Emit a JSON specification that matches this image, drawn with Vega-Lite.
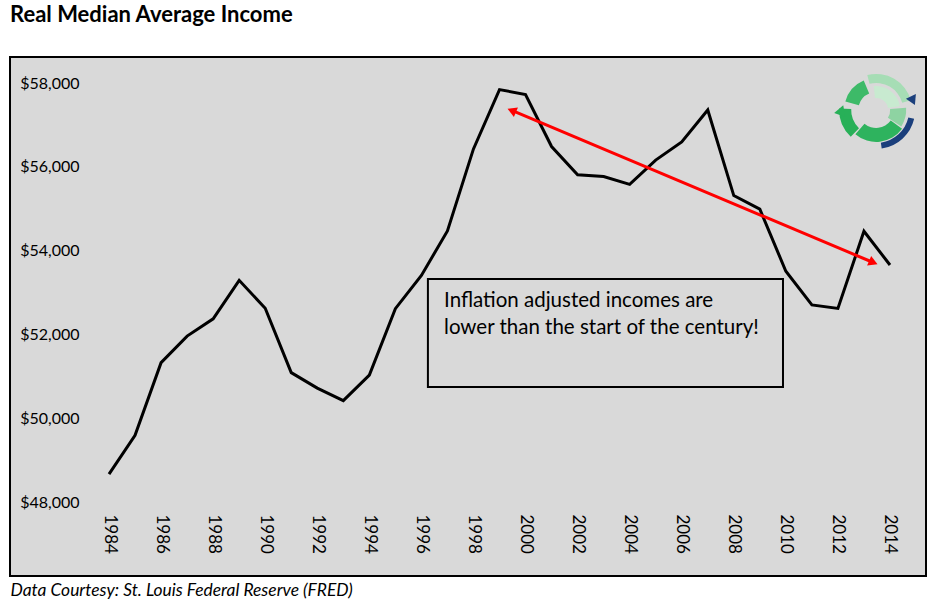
{
  "$schema": "https://vega.github.io/schema/vega-lite/v6.json",
  "width": 916,
  "height": 519,
  "autosize": "none",
  "padding": {"left": 10, "top": 57, "right": 7, "bottom": 36},
  "background": "white",
  "config": {
    "view": {"fill": "#D9D9D9", "stroke": "black", "strokeWidth": 2},
    "font": "Lato"
  },
  "title": {
    "text": "Real Median Average Income",
    "anchor": "start",
    "frame": "group",
    "font": "Lato",
    "fontSize": 22,
    "fontWeight": "bold",
    "color": "black",
    "baseline": "alphabetic",
    "offset": 13
  },
  "datasets": {
    "income": [
      {"year": 1984, "value": 48664},
      {"year": 1985, "value": 49594},
      {"year": 1986, "value": 51325},
      {"year": 1987, "value": 51960},
      {"year": 1988, "value": 52372},
      {"year": 1989, "value": 53290},
      {"year": 1990, "value": 52623},
      {"year": 1991, "value": 51087},
      {"year": 1992, "value": 50717},
      {"year": 1993, "value": 50418},
      {"year": 1994, "value": 51027},
      {"year": 1995, "value": 52614},
      {"year": 1996, "value": 53407},
      {"year": 1997, "value": 54469},
      {"year": 1998, "value": 56427},
      {"year": 1999, "value": 57843},
      {"year": 2000, "value": 57724},
      {"year": 2001, "value": 56484},
      {"year": 2002, "value": 55812},
      {"year": 2003, "value": 55767},
      {"year": 2004, "value": 55580},
      {"year": 2005, "value": 56159},
      {"year": 2006, "value": 56594},
      {"year": 2007, "value": 57357},
      {"year": 2008, "value": 55313},
      {"year": 2009, "value": 54988},
      {"year": 2010, "value": 53507},
      {"year": 2011, "value": 52704},
      {"year": 2012, "value": 52620},
      {"year": 2013, "value": 54462},
      {"year": 2014, "value": 53657}
    ],
    "grid": [
      {"value": 50000}, {"value": 52000}, {"value": 54000}, {"value": 56000}, {"value": 58000}
    ],
    "arrowline": [
      {"year": 1999.45, "value": 57350, "year2": 2013.38, "value2": 53710}
    ],
    "headstart": [{"year": 1999.47, "value": 57344}],
    "headend": [{"year": 2013.36, "value": 53716}],
    "box": [{"year": 1996.25, "year2": 2009.89, "value": 53322, "value2": 50745}],
    "note": [
      {"year": 1996.87, "value": 52654, "text": "Inflation adjusted incomes are"},
      {"year": 1996.87, "value": 52010, "text": "lower than the start of the century!"}
    ],
    "logo": [{"year": 2013.47, "value": 57356}],
    "logoBlueHead": [{"year": 2014.89, "value": 57642}],
    "logoGreenHead": [{"year": 2012.05, "value": 57308}]
  },
  "encoding": {
    "x": {
      "field": "year",
      "type": "quantitative",
      "scale": {"domain": [1983.5, 2014.5], "range": [86, 893], "nice": false, "zero": false},
      "axis": {
        "values": [1984, 1986, 1988, 1990, 1992, 1994, 1996, 1998, 2000, 2002, 2004, 2006, 2008, 2010, 2012, 2014],
        "format": "d",
        "labelAngle": 90,
        "labelAlign": "left",
        "labelBaseline": "middle",
        "grid": false,
        "domain": false,
        "ticks": false,
        "labelPadding": 12,
        "offset": -74,
        "labelFlush": false,
        "labelOverlap": false,
        "labelBound": false,
        "labelFont": "Lato",
        "labelFontSize": 17,
        "labelColor": "black",
        "title": "Data Courtesy: St. Louis Federal Reserve (FRED)",
        "titleX": 0,
        "titleY": 93,
        "titleAlign": "left",
        "titleAnchor": "start",
        "titleBaseline": "alphabetic",
        "titleFont": "Lato",
        "titleFontStyle": "italic",
        "titleFontWeight": "normal",
        "titleFontSize": 17.4,
        "titleColor": "black"
      }
    },
    "y": {
      "field": "value",
      "type": "quantitative",
      "scale": {"domain": [48000, 58000], "range": [445, 26], "nice": false, "zero": false},
      "axis": {
        "values": [48000, 50000, 52000, 54000, 56000, 58000],
        "format": "$,.0f",
        "grid": false,
        "domain": false,
        "ticks": false,
        "labelPadding": 17,
        "offset": -86,
        "labelFont": "Lato",
        "labelFontSize": 16,
        "labelColor": "black",
        "title": null
      }
    }
  },
  "layer": [
    {
      "data": {"name": "grid"},
      "mark": {"type": "rule", "color": "white", "strokeWidth": 1},
      "encoding": {
        "x": {"datum": 1983.5},
        "x2": {"datum": 2014.5}
      }
    },
    {
      "data": {"name": "income"},
      "mark": {"type": "line", "color": "black", "strokeWidth": 3}
    },
    {
      "data": {"name": "box"},
      "mark": {"type": "rect", "fill": null, "fillOpacity": 0, "stroke": "black", "strokeWidth": 2},
      "encoding": {
        "x2": {"field": "year2"},
        "y2": {"field": "value2"}
      }
    },
    {
      "data": {"name": "note"},
      "mark": {"type": "text", "align": "left", "baseline": "alphabetic", "font": "Lato", "fontSize": 20.5, "color": "black"},
      "encoding": {"text": {"field": "text"}}
    },
    {
      "data": {"name": "arrowline"},
      "mark": {"type": "rule", "color": "#FF0000", "strokeWidth": 3},
      "encoding": {
        "x2": {"field": "year2"},
        "y2": {"field": "value2"}
      }
    },
    {
      "data": {"name": "headstart"},
      "mark": {"type": "point", "shape": "triangle-left", "angle": 22.8, "filled": true, "color": "#FF0000", "opacity": 1, "size": 110}
    },
    {
      "data": {"name": "headend"},
      "mark": {"type": "point", "shape": "triangle-right", "angle": 22.8, "filled": true, "color": "#FF0000", "opacity": 1, "size": 110}
    },
    {
      "data": {"name": "logo"},
      "mark": {"type": "arc", "theta": -0.25, "theta2": 1.3, "radius": 27, "radius2": 36, "color": "#A6DDB5"}
    },
    {
      "data": {"name": "logo"},
      "mark": {"type": "arc", "theta": -0.1, "theta2": 1.4, "radius": 12, "radius2": 24, "color": "#C8EAD0"}
    },
    {
      "data": {"name": "logo"},
      "mark": {"type": "arc", "theta": -1.3, "theta2": -0.4, "radius": 18, "radius2": 32, "color": "#3DBA68"}
    },
    {
      "data": {"name": "logo"},
      "mark": {"type": "arc", "theta": 3.9, "theta2": 4.75, "radius": 25, "radius2": 37, "color": "#28B058"}
    },
    {
      "data": {"name": "logo"},
      "mark": {"type": "arc", "theta": 2.2, "theta2": 3.85, "radius": 18, "radius2": 32, "color": "#2EB35E"}
    },
    {
      "data": {"name": "logo"},
      "mark": {"type": "arc", "theta": 1.5, "theta2": 2.15, "radius": 14, "radius2": 30, "color": "#8ED3A2"}
    },
    {
      "data": {"name": "logo"},
      "mark": {"type": "arc", "theta": 1.8, "theta2": 3.0, "radius": 33, "radius2": 39, "color": "#1B3F7C"}
    },
    {
      "data": {"name": "logoBlueHead"},
      "mark": {"type": "point", "shape": "triangle-up", "angle": 35, "filled": true, "color": "#1B3F7C", "opacity": 1, "size": 120}
    },
    {
      "data": {"name": "logoGreenHead"},
      "mark": {"type": "point", "shape": "triangle-left", "angle": -10, "filled": true, "color": "#28B058", "opacity": 1, "size": 140}
    }
  ]
}
